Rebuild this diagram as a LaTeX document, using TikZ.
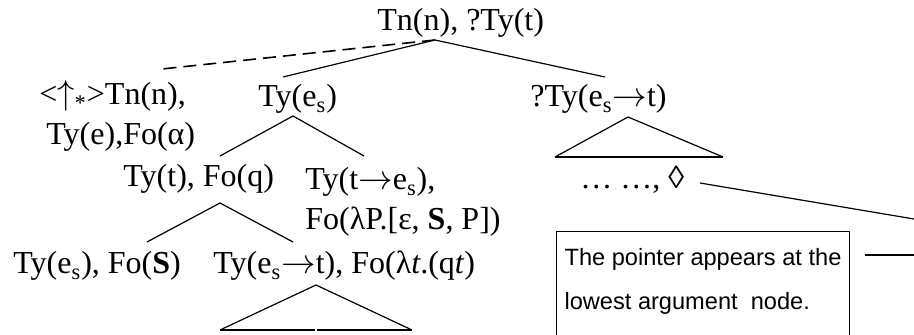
\documentclass[tikz,border=0pt]{standalone}
\usepackage{fontspec}
\setmainfont{Liberation Serif}
\newfontfamily\notefont{Liberation Sans}
\usetikzlibrary{positioning}
\newcommand{\lsub}[1]{\textsubscript{#1}}
\newcommand{\toarr}{\ensuremath{\rightarrow}}

\begin{document}
\begin{tikzpicture}[
  x=0.5pt,y=-0.5pt,
  font=\fontsize{16}{20}\selectfont,
  lbl/.style={inner sep=0pt, anchor=base west, align=left},
  branch/.style={line width=0.6pt},
  basebar/.style={line width=1.1pt},
  moved/.style={line width=0.8pt, dash pattern=on 6.5pt off 3.5pt},
  note/.style={draw, line width=0.5pt, anchor=north west, align=left, minimum width=146.5pt,
    inner xsep=3pt, inner ysep=0pt, font=\notefont\fontsize{11.8}{22}\selectfont}
]
  \path[use as bounding box, clip] (0,0) rectangle (914,335);

  % tree labels (two-line labels sit on their last line)
  \node[lbl] (root) at (377,31) {Tn(n), ?Ty(t)};
  \node[lbl] (unfix) at (39,145) {<\ensuremath{\uparrow}\lsub{*}>Tn(n),\\\hspace*{3.5pt}Ty(e),Fo(α)};
  \node[lbl] (tyes) at (258,107) {Ty(e\lsub{s})};
  \node[lbl] (pred) at (530,107) {?Ty(e\lsub{s}\toarr t)};
  \node[lbl] (tyt) at (123,187) {Ty(t), Fo(q)};
  \node[lbl] (binder) at (305,230) {Ty(t\toarr e\lsub{s}),\\Fo(λP.[ε, \textbf{S}, P])};
  \node[lbl] (ptr) at (580,189) {… …, ◊};
  \node[lbl] (arg) at (13,274) {Ty(e\lsub{s}), Fo(\textbf{S})};
  \node[lbl] (fun) at (213,274) {Ty(e\lsub{s}\toarr t), Fo(λ\textit{t}.(q\textit{t})};
  \node[note] (remark) at (556,231) {\rule{0pt}{17pt}The pointer appears at the\\lowest argument\ \ node.\rule[-30pt]{0pt}{0pt}};

  % branch points
  \coordinate (rootap) at (435,40);
  \coordinate (unfixtop) at (162,69);
  \coordinate (tyestop) at (283,77);
  \coordinate (predtop) at (605,77);
  \coordinate (tyesap) at (293,116);
  \coordinate (tyttop) at (220,156);
  \coordinate (bindertop) at (364,156);
  \coordinate (predap) at (628,117);
  \coordinate (predl) at (555,157);
  \coordinate (predr) at (723,157);
  \coordinate (tytap) at (220,203);
  \coordinate (argtop) at (147,242);
  \coordinate (funtop) at (293,242);
  \coordinate (funap) at (316,285);
  \coordinate (funl) at (220,330);
  \coordinate (funm) at (316,330);
  \coordinate (funr) at (412,330);
  \coordinate (ptrfrom) at (700,183);
  \coordinate (ptrto) at (914,219);
  \coordinate (tailfrom) at (865,255);
  \coordinate (tailto) at (914,255);

  \draw[moved] (rootap) -- (unfixtop);
  \draw[branch] (tyestop) -- (rootap) -- (predtop);
  \draw[branch] (tyttop) -- (tyesap) -- (bindertop);
  \draw[branch] (argtop) -- (tytap) -- (funtop);
  \draw[branch] (predl) -- (predap) -- (predr);
  \draw[basebar] (predl) -- (predr);
  \draw[branch] (funl) -- (funap) -- (funr);
  \draw[basebar] (funl) -- ([xshift=-0.4pt]funm);
  \draw[basebar] ([xshift=0.4pt]funm) -- (funr);
  \draw[branch] (ptrfrom) -- (ptrto);
  \draw[branch] (tailfrom) -- (tailto);
\end{tikzpicture}
\end{document}
